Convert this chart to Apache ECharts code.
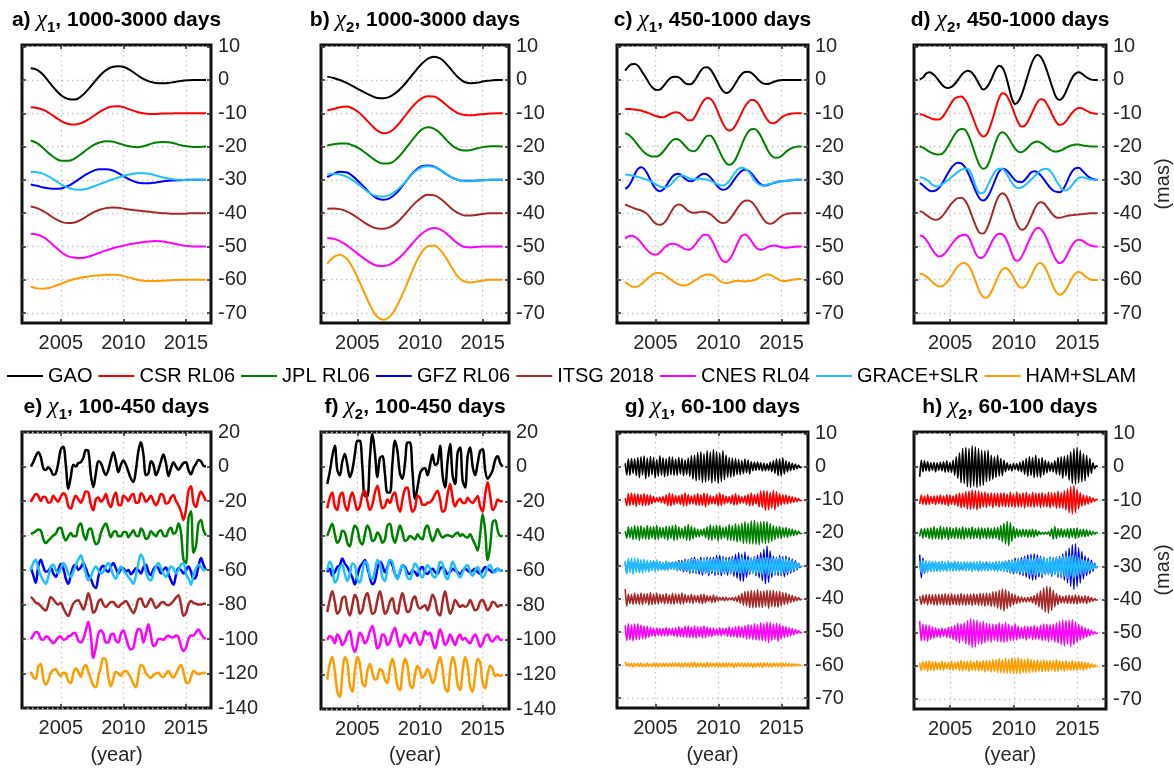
<!DOCTYPE html>
<html><head><meta charset="utf-8">
<script src="https://cdn.jsdelivr.net/npm/echarts@6/dist/echarts.min.js"></script>
<style>html,body{margin:0;padding:0;background:#fff;}#c{width:1174px;height:769px;}</style>
</head><body><div id="c"></div>
<script>
const seriesNames = ['GAO','CSR RL06','JPL RL06','GFZ RL06','ITSG 2018','CNES RL04','GRACE+SLR','HAM+SLAM'];
const seriesColors = ['#000000','#ff0000','#008000','#0000ff','#a52a2a','#ff00ff','#1ec0ff','#ff9c00'];
const offsetSteps = [0,-1,-2,-3,-4,-5,-3,-6];
const yTicksSmall = [-70,-60,-50,-40,-30,-20,-10,0,10];
const yTicksLarge = [-140,-120,-100,-80,-60,-40,-20,0,20];
const xTicks = [2005,2010,2015];
const startYear = 2002.6;

// panel a: chi1, 1000-3000 days (step 0.5 yr)
const a_GAO = [3.5,3.0,1.5,-0.8,-3.0,-4.8,-5.7,-5.9,-5.0,-3.2,-1.0,1.2,2.9,3.9,4.1,3.8,2.8,1.5,0.3,-0.5,-0.9,-1.0,-0.9,-0.6,-0.3,-0.1,0,0,0];
const a_CSR = [1.8,1.6,1.0,0,-1.3,-2.5,-3.2,-3.4,-3.0,-2.1,-0.9,0.4,1.4,2.0,2.1,1.7,1.0,0.4,0,-0.2,-0.2,-0.1,-0.1,0,0,0,0,0,0];
const a_JPL = [1.8,1.0,-0.5,-2.2,-3.6,-4.3,-4.3,-3.6,-2.3,-0.9,0.4,1.2,1.6,1.5,1.0,0.4,0,-0.2,0.1,0.7,1.2,1.4,1.3,0.9,0.4,0.1,-0.1,-0.1,0];
const a_GFZ = [-1.4,-1.8,-2.3,-2.6,-2.7,-2.5,-1.8,-0.7,0.6,1.8,2.7,3.2,3.2,2.9,2.0,0.9,-0.1,-0.8,-1.0,-1.0,-0.8,-0.5,-0.3,-0.2,-0.1,0,0,0,0];
const a_ITSG = [2.0,1.5,0.6,-0.6,-1.8,-2.7,-3.0,-2.8,-2.0,-0.9,0.2,1.0,1.5,1.7,1.6,1.3,1.0,0.8,0.6,0.4,0.2,0,-0.1,-0.2,-0.2,-0.1,0,0,0];
const a_CNES = [3.8,3.6,2.8,1.4,-0.3,-1.9,-3.0,-3.4,-3.5,-3.2,-2.6,-1.9,-1.2,-0.6,-0.1,0.3,0.7,1.0,1.3,1.5,1.6,1.5,1.2,0.8,0.4,0.1,0,0,0];
const a_GSLR = [2.4,2.3,1.8,0.9,-0.3,-1.5,-2.4,-2.9,-3.0,-2.7,-2.0,-1.3,-0.6,0.1,0.7,1.3,1.7,2.0,2.0,1.8,1.3,0.8,0.4,0.1,0,-0.1,0,0,0];
const a_HAM = [-2.0,-2.6,-2.7,-2.4,-1.8,-1.1,-0.4,0.2,0.6,0.9,1.2,1.3,1.5,1.5,1.4,1.0,0.5,0,-0.3,-0.4,-0.4,-0.3,-0.2,-0.1,0,0,0,0,0];

// panel b: chi2, 1000-3000 days (step 0.5 yr)
const b_GAO = [1.0,0.6,0,-0.8,-1.8,-2.8,-3.8,-4.7,-5.4,-5.5,-5.0,-3.8,-2.0,0.2,2.5,4.7,6.3,7.0,6.5,4.8,2.6,0.6,-0.7,-1.0,-0.8,-0.4,-0.2,0,0];
const b_CSR = [0.8,1.3,1.8,2.0,1.5,0.3,-1.5,-3.5,-5.2,-6.0,-5.6,-4.0,-1.8,0.6,2.8,4.4,5.1,5.0,4.0,2.5,1.0,-0.1,-0.5,-0.6,-0.4,-0.2,-0.1,0,0];
const b_JPL = [0.3,0.7,0.9,0.9,0.4,-0.5,-1.8,-3.2,-4.5,-5.1,-5.0,-3.8,-1.8,0.6,3.0,5.0,5.8,5.4,4.0,2.0,0.2,-0.9,-1.2,-1.0,-0.5,-0.1,0.1,0.1,0];
const b_GFZ = [0.8,1.8,2.4,2.3,1.2,-0.5,-2.4,-4.3,-5.6,-6.0,-5.5,-4.0,-1.8,0.6,2.7,4.0,4.3,4.0,3.0,1.7,0.6,-0.1,-0.3,-0.3,-0.2,-0.1,0,0,0];
const b_ITSG = [1.3,1.4,1.2,0.6,-0.4,-1.6,-2.9,-4.0,-4.6,-4.7,-4.2,-3.0,-1.2,1.0,3.0,4.6,5.5,5.4,4.4,2.8,1.1,-0.1,-0.7,-0.7,-0.5,-0.2,0,0,0];
const b_CNES = [2.5,2.3,1.6,0.5,-0.9,-2.4,-3.8,-5.0,-5.8,-5.9,-5.4,-4.2,-2.5,-0.4,1.8,3.7,5.0,5.5,5.1,3.9,2.2,0.7,-0.2,-0.3,-0.1,0,0,0,0];
const b_GSLR = [1.5,1.8,1.6,1.0,0,-1.4,-2.9,-4.2,-4.9,-5.0,-4.5,-3.3,-1.5,0.6,2.5,3.7,4.1,3.9,3.0,1.7,0.6,-0.1,-0.4,-0.4,-0.2,-0.1,0,0,0];
const b_HAM = [4.8,6.8,7.5,6.5,3.8,0,-4.3,-8.3,-11.2,-12.0,-11.0,-8.3,-4.4,0,4.5,8.0,10.0,10.3,9.0,6.4,3.3,0.6,-0.6,-0.8,-0.5,-0.2,0,0,0];

// panel c: chi1, 450-1000 days (step 0.25 yr)
const c_GAO = [2.8,4.0,4.7,4.8,4.3,3.0,1.5,0,-1.6,-2.6,-3.0,-2.9,-2.0,-0.8,0.3,0.9,1.0,0.8,0,-0.9,-1.3,-1.2,-0.2,1.3,2.8,3.7,3.8,3.2,1.8,0,-1.8,-3.3,-3.9,-3.6,-2.5,-1.0,0.6,1.8,2.4,2.5,2.1,1.3,0.3,-0.6,-1.1,-1.2,-1.0,-0.6,-0.3,-0.1,0,0,0,0,0,0,0];
const c_CSR = [1.3,1.3,1.2,1.1,1.0,0.8,0.5,0.2,-0.2,-0.6,-0.9,-1.1,-1.2,-0.9,-0.4,0.1,0.3,0.2,-0.5,-1.4,-2.1,-2.1,-1.2,0.5,2.4,3.9,4.6,4.4,3.2,1.3,-1.0,-3.1,-4.6,-5.2,-4.9,-3.6,-1.8,0.2,2.0,3.3,4.0,3.9,3.1,1.6,-0.2,-1.8,-2.8,-3.0,-2.6,-1.8,-1.0,-0.5,-0.2,-0.1,0,0,0];
const c_JPL = [4.0,3.6,2.8,1.7,0.5,-0.7,-1.7,-2.4,-2.9,-3.0,-3.0,-2.5,-1.6,-0.4,0.9,1.9,2.3,2.1,1.3,0.2,-0.8,-1.3,-1.4,-0.7,0.7,2.2,3.2,3.3,2.3,0.5,-1.6,-3.5,-4.9,-5.5,-5.1,-3.8,-1.8,0.6,2.8,4.4,5.2,5.3,4.6,3.2,1.3,-0.7,-2.3,-3.2,-3.4,-3.2,-2.5,-1.6,-0.9,-0.4,-0.1,0,0];
const c_GFZ = [-2.7,-2.0,-0.4,1.6,3.2,3.8,3.3,1.9,0,-1.8,-3.0,-3.4,-3.0,-1.8,-0.3,1.0,1.7,1.8,1.2,0.3,-0.3,-0.4,0,0.8,1.5,1.8,1.6,0.8,-0.4,-1.6,-2.6,-3.0,-2.8,-2.0,-0.8,0.6,1.8,2.7,3.0,2.8,2.0,0.8,-0.4,-1.3,-1.7,-1.6,-1.3,-1.0,-0.7,-0.5,-0.4,-0.3,-0.2,-0.1,0,0,0];
const c_ITSG = [2.6,2.2,1.8,1.4,1.1,0.8,0.4,-0.3,-1.4,-2.6,-3.3,-3.5,-3.2,-2.2,-0.6,1.1,2.2,2.6,2.3,1.5,0.7,0.2,0.1,0.2,0.4,0.4,0.2,-0.3,-1.1,-2.0,-2.7,-3.0,-2.8,-2.0,-0.8,0.6,2.0,3.1,3.7,3.8,3.4,2.4,1.0,-0.6,-2.0,-2.9,-3.2,-2.9,-2.2,-1.4,-0.7,-0.3,-0.1,0,0,0,0];
const c_CNES = [2.3,3.0,3.2,2.9,2.2,1.2,0,-1.1,-2.0,-2.4,-2.4,-1.8,-0.8,0.1,0.6,0.8,0.7,0.3,-0.3,-0.8,-1.0,-0.7,0.3,1.6,2.8,3.5,3.5,2.6,0.9,-1.2,-3.1,-4.4,-4.7,-4.0,-2.5,-0.4,1.7,3.2,3.6,3.0,1.7,0.3,-0.7,-1.0,-0.8,-0.3,0.1,0.3,0.2,-0.1,-0.3,-0.4,-0.3,-0.2,-0.1,0,0];
const c_GSLR = [1.6,1.5,1.3,1.1,0.9,0.6,0.3,0,-0.4,-0.9,-1.5,-2.0,-2.2,-2.2,-1.8,-0.9,0.2,1.0,1.3,1.1,0.6,0.2,0.2,0.3,0.3,0.2,0,-0.3,-0.7,-1.2,-1.6,-1.7,-1.3,-0.4,1.0,2.4,3.3,3.6,3.4,2.6,1.4,0,-1.1,-1.6,-1.7,-1.5,-1.2,-0.9,-0.7,-0.5,-0.4,-0.3,-0.2,-0.1,0,0,0];
const c_HAM = [-0.7,-1.4,-2.0,-2.2,-2.0,-1.4,-0.6,0.3,1.1,1.7,2.0,2.0,1.7,1.1,0.4,-0.3,-0.9,-1.4,-1.7,-1.7,-1.4,-0.9,-0.3,0.3,0.9,1.3,1.6,1.6,1.2,0.5,-0.3,-0.8,-1.0,-0.9,-0.6,-0.4,-0.3,-0.4,-0.5,-0.4,-0.3,-0.1,0.3,0.8,1.3,1.6,1.5,1.0,0.4,-0.1,-0.4,-0.4,-0.2,0,0.1,0.2,0.2];

// panel d: chi2, 450-1000 days (step 0.25 yr)
const d_GAO = [0.2,0.7,1.9,2.3,1.9,1.0,-0.2,-1.4,-2.2,-2.4,-2.1,-1.2,0,1.3,2.3,2.8,2.5,1.5,0,-1.8,-2.9,-2.3,-0.8,1.2,3.3,4.3,3.7,1.5,-2.0,-5.6,-7.2,-6.5,-4.6,-1.8,1.4,4.4,6.6,7.5,7.0,5.3,2.8,-0.1,-3.0,-5.3,-6.0,-5.3,-3.5,-1.3,0.7,1.9,2.3,1.9,1.1,0.5,0.1,0,0];
const d_CSR = [-0.3,-0.5,-0.9,-1.3,-1.7,-1.9,-1.9,-1.3,0,1.6,3.2,4.4,4.9,5.0,4.4,2.8,0.5,-2.0,-4.5,-6.3,-7.0,-6.4,-4.4,-1.5,1.8,4.6,6.0,5.7,4.2,2.0,-0.6,-2.8,-4.0,-3.8,-2.5,-0.6,1.5,3.3,4.2,4.0,2.8,1.0,-1.0,-2.7,-3.5,-3.3,-2.4,-1.1,0.2,1.1,1.6,1.5,1.0,0.5,0.1,-0.1,-0.2];
const d_JPL = [0.1,-0.3,-0.9,-1.5,-2.0,-2.3,-2.4,-2.2,-1.2,0.3,2.0,3.6,4.8,5.3,5.2,4.0,1.8,-1.0,-3.8,-5.9,-6.7,-6.2,-4.2,-1.3,1.6,3.7,4.3,3.8,2.5,0.8,-0.6,-1.5,-1.7,-1.2,-0.3,0.7,1.3,1.5,1.2,0.6,-0.2,-0.9,-1.4,-1.5,-1.3,-0.9,-0.4,0.1,0.4,0.6,0.6,0.4,0.2,0.1,0,0,0];
const d_GFZ = [-1.0,-1.6,-2.5,-3.2,-3.4,-3.2,-2.5,-1.2,0.5,2.2,3.7,4.7,5.1,5.0,4.1,2.5,0.4,-2.0,-4.2,-5.8,-6.2,-5.6,-4.0,-1.8,0.6,2.5,3.3,3.1,2.2,1.0,-0.1,-0.6,-0.7,-0.1,1.0,2.2,2.6,2.3,1.4,0.2,-1.1,-2.3,-3.2,-3.6,-3.7,-3.0,-1.3,0.9,2.6,3.5,3.6,2.9,1.9,1.0,0.4,0.1,0];
const d_ITSG = [0.6,0.2,-0.5,-1.2,-1.8,-2.0,-1.8,-1.0,0.2,1.6,2.9,3.9,4.5,4.6,4.1,2.6,0.3,-2.3,-4.6,-6.0,-6.1,-4.9,-2.6,0.4,3.3,5.3,6.0,5.4,3.6,1.0,-1.8,-4.0,-5.0,-4.7,-3.3,-1.2,1.0,2.7,3.3,3.0,1.9,0.6,-0.6,-1.3,-1.4,-1.2,-0.9,-0.7,-0.6,-0.5,-0.4,-0.3,-0.2,-0.1,0,0,0];
const d_CNES = [3.3,3.0,2.0,0.6,-1.0,-2.3,-3.0,-2.8,-2.0,-0.8,0.6,1.8,2.8,3.3,3.5,3.2,1.6,-0.8,-2.8,-3.5,-3.2,-1.9,0,1.9,3.3,3.8,3.6,2.5,0.4,-2.2,-4.1,-4.3,-3.2,-1.3,0.9,3.0,4.7,5.5,5.3,4.1,2.2,-0.1,-2.4,-4.2,-5.0,-4.6,-3.2,-1.3,0.4,1.6,2.0,1.8,1.2,0.6,0.2,0,0];
const d_GSLR = [0.8,0.6,0.1,-0.6,-1.5,-2.0,-1.9,-1.4,-0.7,0,0.8,1.6,2.4,3.0,3.3,3.3,2.3,-0.2,-2.8,-4.0,-3.9,-2.5,-0.5,1.4,2.8,3.3,3.3,2.3,0.8,-0.9,-2.1,-2.5,-2.3,-1.7,-0.9,0,1.0,2.0,2.8,3.2,3.3,2.7,1.4,-0.3,-1.9,-3.0,-3.2,-2.6,-1.5,-0.3,0.6,0.8,0.6,0.3,0.1,0,0];
const d_HAM = [1.8,1.6,1.0,0.2,-0.7,-1.5,-2.0,-1.9,-1.3,-0.2,1.2,2.7,4.0,4.8,5.0,4.6,3.2,1.0,-1.6,-3.9,-5.2,-5.4,-4.5,-2.7,-0.5,1.6,3.1,3.5,2.9,1.5,-0.3,-1.8,-2.4,-2.2,-0.9,1.0,3.1,4.6,5.0,4.3,2.6,0.3,-2.0,-3.8,-4.5,-4.1,-2.9,-1.2,0.6,1.9,2.3,1.9,1.1,0.4,0,-0.1,-0.1];

// panel e: chi1, 100-450 days (step 0.2 yr)
const e_GAO = [0,2.5,6,8.2,5.5,-1,-2,-0.5,-2,-4.8,-4,2,10,11.5,1,-12.9,-6,1,0,2,2.5,5,9.5,9,-5,-12,-4,3,2,-2,-5,-2,4,8.3,3,-3.3,1,3.5,1,-3,-7,-9,-2,9,14,7,-5,-4,3,1,-5,-2,3,6.9,2,-5.5,-1,2.5,0,-2,0,2,2.5,-2,-4.5,-1,1.5,3.8,3,0.5,0];
const e_CSR = [-0.5,2,4,3,0,2.5,2,-1,-0.5,3,1,-0.5,2.5,4.5,3,-3,-4.4,0,3,1,-1,2,5.5,5,-2,-5.4,1,2,-0.5,1,4,-1,-3.5,2,5,-2,-2.5,3,2,0,3,4,-1,-1,4.5,3,-0.5,1,3,0,-2.5,0,4,3,-1.5,-1,2,3.5,0,-2.5,-6,-11,-5,6,8.5,-1,-3.5,2,5.5,3,0];
const e_JPL = [1,1.5,2.5,3.5,3,-2,-4.4,-3,-1.5,0,1,4,4.5,0,-2.9,-0.5,1.5,-0.5,-0.5,5,7,1,-2.5,3,4,-1,-5,-4,1.5,5,7,3,-1,2,2.5,-0.5,-0.5,2,2,-1,1,3,0,-0.5,4,2,-2,-1,2.5,1,-0.5,2,3,0,-0.5,3,4.5,1,2,7,2,-14,-16,10,14,-10,-6,7,9,3,0];
const e_GFZ = [1.5,-3,-7.5,2,6,2,-1,-0.5,1.5,-2,-4,0,3.5,1,-5,-8,-3,2,3,0,1.5,4,1,-3,-5,-9,-10.5,-4,1,2.5,0,-1,2,4,1,-2,0.5,1,-1,0,-2.5,-1,1,0,-2,1.5,3,-1,-3,0.5,2,1,-2,0,1.5,-2,-6,-8.5,-3,1,0,-2,0,2,-1,-5,-4,2,7,3,0];
const e_ITSG = [4.4,3,1,0.5,-1,-2.5,-3.5,0,4.4,3,1,0,1,-2,-5,-6.7,-3,0.5,2,2.5,0,-3,1,6.5,2,-4.8,-3,1.5,3,0,-1.5,0,1.5,1.5,-0.5,-1.5,0,1,2,0,-3,-5,-2,3,3.5,0,-1.5,1,3.5,1,-2,-1,1,1.5,0,-0.5,0.5,2,4,5.4,0,-6.5,-5,0,2,1,0.5,0,0,0.5,0.5];
const e_CNES = [0,2,4,3.5,0,-0.5,1.5,1,-1,-2.5,-1,1,1.5,-0.5,0,1.5,2,3.5,3,-1,-2,0,5,10,2,-11,-5,3,5,3,-2,-2,2.5,3,-1,-2,3,5,1,-4,-6,-5,2,6,5,-2,3,8.5,2,-4,-3,0,0,-0.5,1,2,1,1,2,1,-4,-7,-5,0,2,2,4,5.5,3,1,0];
const e_GSLR = [0,4,6,1,-3,-6,-8,-4,2,3,0,-2,1,4,2,-2,-4,-1,3,6,8.5,4,-2,-6,-4,0,2,0,-2,-1,2,4,1,-3,-5,-1,2,0,-2,-4,-6,-8,-3,4,9,6,-1,-5,-6,-2,2,4,1,-2,-4,-1,2,1,-2,0,3,4,-2,-5,-8.5,-3,1,3,2,0,0];
const e_HAM = [1,-2,-3,4,5.5,-3,-6.5,-4,0.5,2,2.5,0,-1.5,0.5,0,-4.5,-5.5,0,3,1,-2,3,5,1,-3,-7,-8,-2,4,9,8,-2,-7.5,-3,1,0,-1.5,1,1.5,0,-2.5,-6,-8,-1,5,4,0,-1.5,-2.5,-1,0,0.5,-1.5,-2,0,1.5,-1,-2.5,0,3,5,1,-5,-5.5,-2,1.5,0.5,-0.5,0,0.5,0];

// panel f: chi2, 100-450 days (step 0.2 yr)
const f_GAO = [-10,-3,6,12,-2,-5,3,7.3,1,-6,-2,7,15,15,0,-17,-17,5,18.8,8,-6,5,6,-4,-15,-15,2,15,9,-4,-7,2,14,14,-3,-18.6,-12,-4,-1.5,-1,-5,1,7,1,2,12,-5,-12,3,13,-5,-10,8,11,-8,-12,6,11,0,-5,2,9,10,-2,-7,-5,-2,4,6,2,0];
const f_CSR = [-4,2,5,-3,-5,3,5,-2,-5.5,1,5,0,-5,-3,4,6,0,-5,-2,5,9,2,-4,-3,1,-1,3,5,-2,-6,1,7,8,0,-6,-4,3,2,-2,-2,-1,-0.5,1,4,6,1,-6,-5,4,10,2,-3,0,1.5,-1,-1,2,0,-1,1,3,-3,-6,4,11,3,-5,-3,1,0,0];
const f_JPL = [0,4,7,1,-4,-2,3,2,-4,-6,1,6,4,-3,-5,1,6,3,-3,-2,2,0,-4,-2,6,7,0,-4,1,6,2,-3,-2,0,-1,-2,1,-1,-2,4,6,1,-3,0,4,1,-1,0,0.5,0,-0.5,1,2,0,1,-0.5,-1,1,-2,-5,-8.5,1,12.5,3,-14,-6,8,9,3,0,0];
const f_GFZ = [-1,1,-3,-1,2,3,7,4,2,-1,-4,-8,-3,2,4,6,2,-4,-8,-6,1,5,3,-1,2,6,3,-2,-4,-1,3,2,-1,-2,0,-1,-3,1,2,-1,-2,0,1,-1,-2,1,2,0,-2,-1,1,0,-1,-2,0,1,0,-1,0,1,-1,-2,0,2,1,0,-1,0,1,0,0];
const f_ITSG = [-4,3,8,2,-5,-3,4,5,-2,-6,0,6,3,-5,-3,4,7,1,-5,-4,3,8,2,-5,-3,2,4,-3,-5,2,7,1,-4,-3,3,5,0,-2,-1,0,-3,1,6,3,-4,-6,2,8,1,-5,-2,3,1,-1,0,-1,0,3,0,-3,-2,2,3,0,-3,-1,2,1,-1,0,0];
const f_CNES = [0,2,1,-2,3,1,-3,-1,3,5,-3,-7,-2,4,2,-2,0,5,8,2,-5,-3,3,2,-3,-1,4,7,1,-4,-1,3,1,-2,2,4,0,-3,0,5,3,4,-1,-5,0,6,2,-3,-1,3,0,-3,1,3,0,1,-1,-2,1,3,0,-4,-2,2,3,0,-1,1,2,0,0];
const f_GSLR = [0,5,2,-7,-5,2,3,-2,-6,-2,4,3,-5,-7,-1,5,4,-3,-5,0,6,4,-4,-6,1,6,5,-2,-5,0,3,1,-4,-5,0,4,2,-2,-4,0,3,1,-3,-4,-1,5,4,-3,-5,0,5,2,-2,-4,-1,2,3,-1,-3,0,2,-1,-4,-2,2,3,0,-1,1,0,0];
const f_HAM = [-3,6,10,2,-10,-13,0,10,7,-6,-10,2,10,6,-5,-7,2,6,1,-3,-2,3,2,-3,-5,4,9,3,-7,-9,2,9,5,-6,-8,0,5,2,-2,0,3,0,-5,-2,6,10,3,-8,-10,2,10,6,-6,-9,2,10,5,-7,-10,0,9,7,-5,-8,0,5,3,-1,0,-1,0];

// panel g: chi1, 60-100 days (step 0.125 yr)
const g_GAO = [1,-2.5,2.3,-2.6,2.5,-2,2.4,-2.7, 2.8,-3.3,3,-2.5,3.2,-3.6,2.6,-3, 3.1,-2.4,2.8,-3.3,2.2,-2.9,3.3,-2.6, 2.7,-3,2.4,-2.8,3,-2.5,2.9,-2.6, 2.3,-2.6,2.8,-2.2,2.5,-2.7,2,-2.4, 2.6,-2.9,3.4,-3.8,3.5,-4.2,4.3,-4, 4.5,-4.8,3.9,-4.6,4.8,-4.2,4.4,-4.9, 5.2,-4.4,4.6,-5,4.1,-4.5,4.8,-3.9, 3.5,-3.2,2.8,-3.1,2.6,-2.9,2.5,-2.4, 2.2,-2.4,1.9,-2.1,2.3,-1.8,2,-2.2, 1.5,-1.2,1.3,-1.1,1.4,-1,1.2,-1.3, 1,-1.2,0.9,-1.1,1.3,-1.5,1.8,-2, 2.4,-2.7,2.3,-2.8,2.6,-2.2,1.8,-1.6, 1.4,-1.2,1,-0.9,0.8,-0.6,0.5,-0.3, 0];
const g_CSR = [0.5,-1.8,1.9,-1.7,2,-1.6,1.8,-2, 1.7,-1.5,1.6,-1.8,1.9,-1.7,1.5,-1.6, 1.4,-1.2,1,-0.8,0.7,-0.6,0.8,-0.9, 1,-1.2,1.5,-1.8,2,-1.9,1.7,-1.5, 1.3,-1.1,1.2,-1.4,1.6,-1.9,2.1,-1.8, 1.6,-1.3,1.1,-1.2,1.4,-1.6,1.9,-1.7, 1.5,-1.7,2,-2.2,1.8,-1.5,1.3,-1.2, 1,-1.3,1.6,-1.8,2,-1.7,1.5,-1.3, 1.1,-0.9,1,-1.2,1.4,-1.6,1.8,-1.5, 1.3,-1.1,0.9,-1,1.2,-1.4,1.6,-1.8, 2,-1.7,1.5,-1.3,1.8,-2.2,2.6,-2.4, 2.8,-3.2,2.7,-3,2.2,-2.5,2.8,-3, 2.4,-2,1.8,-1.6,1.5,-1.3,1.4,-1.2, 1.1,-1,0.9,-0.8,0.7,-0.5,0.4,-0.3, 0];
const g_JPL = [0.5,-1.6,1.8,-1.5,1.7,-2,2.2,-1.9, 2,-2.3,2.1,-1.8,1.6,-1.9,2.2,-2, 1.8,-1.6,1.9,-2.1,2.3,-2,1.7,-1.5, 1.6,-1.8,2,-2.2,1.9,-1.7,2.1,-2.3, 2.4,-2.1,1.8,-1.6,1.4,-1.7,2,-2.2, 2.5,-2.3,2,-1.8,1.5,-1.3,1.1,-1.2, 1,-0.9,1.2,-1.5,1.8,-2.1,2.4,-2.2, 2,-1.8,2.3,-2.5,2.2,-1.9,1.6,-1.5, 1.8,-2.2,2.5,-2.3,2.1,-2.4,2.7,-2.8, 2.4,-2.6,2.9,-3.2,3.4,-3.1,2.9,-3.3, 3.6,-3.4,3.8,-3.5,3.2,-3.6,3.4,-3, 3.5,-3.2,3.4,-3,2.8,-2.5,2.2,-2, 1.8,-1.6,1.9,-1.7,1.5,-1.3,1.6,-1.4, 1.2,-1,1.1,-0.9,0.8,-0.6,0.5,-0.3, 0];
const g_GFZ = [1,-2,1.5,-1.2,1,-1.4,1.2,-1, 1.3,-1.5,1.2,-1,1.4,-1.2,1.1,-1.3, 1,-1.2,1.4,-1.1,0.9,-1,1.2,-1.1, 0.9,-1.1,1.3,-1.2,1,-0.9,1.1,-1, 1.2,-1.4,1.6,-1.3,1.5,-1.8,2,-1.7, 1.9,-2.2,2.4,-2.1,2.6,-2.3,2,-2.5, 2.6,-2.8,2.4,-2.2,2.7,-3,2.5,-2.3, 2.6,-2.9,3.2,-2.7,3.3,-3,2.8,-2.4, 2.5,-2.8,2.6,-2.4,2.9,-3.2,3.5,-3.8, 4,-4.5,3.6,-4.7,4.2,-3.5,3,-2.6, 2.4,-2.2,2.8,-3,3.3,-3.6,4,-4.5, 5,-5.4,6,-5,4.5,-3.5,3,-2.8, 2.6,-2.9,3.2,-3,2.8,-3.3,3,-2.7, 2.5,-2.2,2,-1.8,1.5,-1.2,0.8,-0.5, 0];
const g_ITSG = [3,-2.2,1.5,-1.4,1.3,-1.6,1.7,-1.5, 1.4,-1.6,1.8,-1.7,1.5,-1.3,1.6,-1.8, 1.9,-1.7,1.5,-1.6,1.8,-1.5,1.4,-1.2, 1.3,-1.5,1.6,-1.4,1.2,-1.5,1.7,-1.6, 1.5,-1.3,1.4,-1.6,1.8,-1.5,1.3,-1.1, 1,-1.2,1.4,-1.3,1.1,-0.9,1,-1.2, 1.3,-1.5,1.4,-1.2,1,-0.8,0.9,-1.1, 1.2,-1,0.8,-0.6,0.5,-0.4,0.5,-0.6, 0.5,-0.4,0.3,-0.3,0.4,-0.5,0.6,-0.8, 1,-1.3,1.6,-1.9,2.2,-2.1,2.4,-2.6, 2.5,-2.7,2.4,-2.6,2.8,-2.5,2.3,-2.6, 2.4,-2.2,2.6,-2.8,2.5,-2.3,2.6,-2.4, 2.2,-2.5,2.3,-2.1,1.9,-1.7,1.8,-1.5, 1.3,-1.1,1,-0.8,0.7,-0.5,0.4,-0.3, 0];
const g_CNES = [2,-2.6,2.5,-2.4,2.2,-2.7,2.4,-2.3, 2.5,-2.2,2.1,-2,1.8,-2,1.7,-1.6, 1.4,-1.2,1.1,-1.3,1.2,-1,1.1,-1.2, 1,-1.1,1.3,-1.2,1,-0.9,1.1,-1.2, 1.3,-1.5,1.6,-1.4,1.2,-1.5,1.7,-1.6, 1.8,-1.6,1.5,-1.7,1.9,-1.8,1.6,-1.5, 1.6,-1.8,1.9,-1.7,1.5,-1.3,1.2,-1.4, 1.2,-1,0.9,-1.1,1.3,-1.2,1,-0.9, 1.1,-1.3,1.5,-1.4,1.2,-1.4,1.6,-1.7, 1.8,-1.6,1.5,-1.7,1.9,-2.1,2.2,-2, 2.1,-2.3,2.5,-2.4,2.2,-2.5,2.8,-2.6, 2.5,-2.8,3,-3.2,2.9,-2.6,2.4,-2.2, 2.6,-2.8,2.4,-2.1,1.9,-1.7,1.6,-1.4, 1.3,-1.1,1,-0.8,0.7,-0.5,0.4,-0.3, 0];
const g_GSLR = [1.5,-2.5,2.3,-2.1,2.4,-2.6,2.2,-2, 2.3,-2.1,1.9,-2.2,2,-1.8,1.7,-1.9, 1.6,-1.4,1.5,-1.7,1.8,-1.5,1.3,-1.2, 1.1,-1.3,1.4,-1.2,1,-0.9,1.2,-1.1, 1.3,-1.5,1.2,-1,1.1,-1.3,1.5,-1.4, 1.6,-1.8,2,-1.7,1.9,-2.1,1.8,-1.6, 1.8,-2,2.2,-1.9,2.1,-2.3,2,-1.8, 2,-2.2,2.4,-2.1,1.9,-2,2.3,-2.1, 2,-1.8,1.9,-2.1,2.3,-2,1.8,-1.9, 2.1,-2.3,2.5,-2.2,2,-1.8,1.9,-2, 2.2,-2.4,2.6,-2.3,2.1,-2.2,2.4,-2.6, 2.5,-2.3,2.6,-2.8,2.4,-2.2,2.3,-2.5, 2.4,-2.2,2.5,-2.6,2.3,-2.1,2.2,-2, 1.8,-1.6,1.5,-1.3,1.1,-0.9,0.6,-0.3, 0];
const g_HAM = [1,-0.3,0.5,-0.4,0.5,-0.6,0.5,-0.4, 0.5,-0.4,0.6,-0.5,0.4,-0.5,0.6,-0.4, 0.4,-0.5,0.6,-0.4,0.5,-0.6,0.5,-0.4, 0.5,-0.4,0.6,-0.5,0.5,-0.4,0.6,-0.5, 0.6,-0.5,0.7,-0.6,0.5,-0.6,0.7,-0.5, 0.6,-0.7,0.8,-0.6,0.9,-0.7,0.6,-0.5, 0.7,-0.6,0.5,-0.7,0.8,-0.6,0.7,-0.5, 0.6,-0.5,0.7,-0.6,0.5,-0.6,0.7,-0.6, 0.5,-0.6,0.7,-0.5,0.6,-0.7,0.6,-0.5, 0.6,-0.5,0.7,-0.6,0.5,-0.6,0.7,-0.5, 0.6,-0.7,0.5,-0.6,0.7,-0.5,0.6,-0.7, 0.6,-0.5,0.7,-0.6,0.5,-0.6,0.7,-0.5, 0.6,-0.5,0.6,-0.5,0.6,-0.5,0.5,-0.4, 0.5,-0.4,0.4,-0.3,0.3,-0.3,0.2,-0.1, 0];

// panel h: chi2, 60-100 days (step 0.125 yr)
const h_GAO = [-3,2,-1.5,1.8,-1.2,1.5,-1.3,1.2, -1,1.3,-1.5,1.2,-1,1.4,-1.2,1.5, -1.6,1.8,-1.5,1.3,-1.6,2,-2.5,3, -3.5,4.2,-4.8,5.5,-5,5.8,-6,5.5, -6.2,6.3,-5.8,6,-6.2,5.5,-5.8,5, -5.5,4.8,-4.5,5,-4.2,3.5,-3.8,3, -3.2,3.5,-2.8,2.5,-2.7,2,-1.5,1.2, -1,0.8,-1.2,1,-0.8,1,-1.2,1.4, -1.5,1.8,-2.2,2.5,-2.8,3,-2.6,2.8, -3.2,3.5,-3,2.6,-3.2,2.8,-2.4,2, -1.8,1.5,-1.3,1.2,-1.5,1.8,-2.2,2.8, -2.5,3,-3.5,3.2,-2.8,3.5,-4,4.5, -5,5.5,-5.2,5.8,-4.8,5,-4.5,4, -4.2,3.5,-3,2.5,-2,1.2,-0.6,0.3, 0];
const h_CSR = [-1.2,1.5,-1.3,1.2,-1.4,1.6,-1.3,1.1, -1,1.2,-1.4,1.3,-1.1,1.5,-1.3,1.2, -1.4,1.6,-1.8,1.5,-1.3,1.2,-1.5,1.7, -1.9,2.1,-2.3,2,-2.2,2.5,-2.7,2.6, -2.8,3,-2.6,2.8,-3,2.7,-2.5,2.3, -2.1,2.4,-2.2,2,-1.8,2.1,-2.3,2, -1.8,2,-2.2,2.1,-1.9,2.2,-2,1.8, -2.1,2.3,-2,1.8,-2.2,2.4,-2.1,1.9, -2,2.2,-2.4,2.3,-2,1.8,-2.1,2.3, -2.2,2,-1.9,2.1,-2.3,2.2,-2,1.8, -2.1,2.3,-2.4,2.2,-2,2.2,-2.5,2.6, -2.4,2.2,-2.5,2.8,-3,3.4,-3.8,4, -4.2,4.4,-3.8,3.2,-2.6,2.2,-1.8,1.5, -1.5,1.3,-1.2,1,-0.8,0.6,-0.4,0.2, 0];
const h_JPL = [-1,1.3,-1.5,1.4,-1.2,1.5,-1.7,1.6, -1.8,2,-1.7,1.5,-1.8,2.1,-1.9,1.7, -1.5,1.8,-2,1.7,-1.5,1.4,-1.6,1.8, -1.6,1.5,-1.7,1.9,-1.8,1.6,-1.4,1.5, -1.7,1.9,-1.6,1.4,-1.5,1.7,-1.8,1.6, -1.4,1.5,-1.7,1.6,-1.5,1.4,-1.6,1.7, -1.5,1.8,-2,2.3,-2.6,3,-3.3,3.6, -3.8,3.2,-2.5,2,-1.5,1.3,-1.1,1, -1.1,1.2,-1,1.1,-1.2,1,-1.1,1.2, -1.2,1,-0.8,0.6,-0.4,0.3,-0.3,0.3, -0.3,0.4,-0.8,1.3,-1.8,2,-1.6,1.3, -1.1,1.3,-1.2,1,-1.1,1.3,-1.5,1.4, -1.2,1.4,-1.6,1.5,-1.3,1.1,-1,1.2, -1.1,1,-0.9,0.8,-0.6,0.5,-0.3,0.2, 0];
const h_GFZ = [3.5,-3.5,2.5,-2,1.5,-1.3,1.2,-1.4, 1.3,-1.2,1.1,-1.4,1.2,-1,1.3,-1.1, 1,-1.2,1.1,-0.9,1,-1.2,1.3,-1.1, 1.2,-1,0.9,-1.1,1.2,-1,0.9,-1, 1.1,-1.2,1,-0.9,1.1,-1.3,1.2,-1, 1,-1.1,1.3,-1.2,1,-0.9,1.1,-1.2, 1.3,-1.1,1,-1.2,1.4,-1.3,1.5,-1.6, 1.8,-2,1.9,-2.2,2.4,-2.1,2.3,-2.5, 2.6,-2.8,3,-3.3,3.5,-3.8,3.6,-4.2, 3.8,-4,3.5,-3.2,3,-3.4,2.8,-2.5, 2.2,-2.5,2.8,-3,2.6,-2.4,2.8,-3.3, 3,-3.4,3.8,-4.2,4.6,-5,5.5,-6, 6.5,-7,6.8,-6,5.5,-5,4.5,-3.8, 3.2,-2.8,2.5,-2.2,1.8,-1.4,0.9,-0.4, 0];
const h_ITSG = [1,-1.5,1.3,-1.2,1.4,-1.6,1.5,-1.3, 1.4,-1.6,1.5,-1.7,1.6,-1.4,1.5,-1.6, 1.7,-1.5,1.6,-1.8,1.7,-1.5,1.4,-1.6, 1.5,-1.7,1.8,-1.6,1.5,-1.7,1.6,-1.5, 1.6,-1.8,1.7,-1.5,1.6,-1.8,1.9,-1.7, 1.8,-2,1.9,-1.7,1.8,-2.1,2.3,-2.1, 2.4,-2.6,2.8,-3,3.2,-3.5,3,-2.7, 2.4,-2.2,1.8,-1.6,1.4,-1.2,1,-0.9, 0.8,-0.7,0.6,-0.8,0.7,-0.6,0.8,-1, 1.2,-1.5,1.8,-2.2,2.6,-3,3.5,-3.8, 4,-4.2,3.8,-3.3,2.8,-2.2,1.8,-1.5, 1.2,-1,0.9,-1,1.1,-1.2,1.3,-1.2, 1.1,-1.2,1.4,-1.3,1.2,-1,0.9,-1, 1.1,-1.2,1,-0.8,0.6,-0.5,0.3,-0.2, 0];
const h_CNES = [3.5,-2.5,2.6,-2.3,2.4,-2.6,2.2,-2, 1.8,-1.6,1.5,-1.3,1.2,-1.4,1.3,-1.1, 1.2,-1.4,1.6,-1.5,1.8,-2,2.2,-2.5, 2.8,-3,2.7,-2.5,3,-3.3,3.6,-3.8, 4.2,-4.5,4,-4.3,3.8,-3.5,3.2,-3.5, 3.4,-3,2.8,-2.5,2.6,-2.8,2.5,-2.3, 2.5,-2.7,3,-2.8,2.6,-2.9,3.1,-2.7, 2.5,-2.3,2.1,-2.4,2.6,-2.2,2,-1.8, 1.6,-1.8,2,-2.2,1.9,-1.7,1.9,-2.1, 2.2,-2,1.8,-2,2.2,-2.4,2.6,-2.3, 2.5,-2.7,2.4,-2.2,2.5,-2.8,3,-3.2, 3.4,-3.6,3.8,-4,3.7,-3.5,3.8,-4.2, 4,-3.6,3.2,-2.8,2.5,-2.2,2,-1.7, 1.5,-1.3,1.1,-0.9,0.7,-0.5,0.3,-0.2, 0];
const h_GSLR = [1.5,-2,1.8,-1.6,1.7,-1.9,1.6,-1.5, 1.4,-1.6,1.5,-1.3,1.4,-1.6,1.5,-1.4, 1.3,-1.5,1.6,-1.4,1.2,-1.3,1.5,-1.4, 1.2,-1.4,1.3,-1.1,1.2,-1.4,1.3,-1.2, 1.4,-1.5,1.3,-1.2,1.4,-1.5,1.6,-1.4, 1.3,-1.2,1.1,-1.3,1.4,-1.2,1.1,-1.3, 1.4,-1.6,1.5,-1.3,1.4,-1.6,1.7,-1.5, 1.6,-1.8,1.9,-1.7,1.8,-2,2.1,-1.9, 2,-2.2,2.4,-2.1,2.3,-2.5,2.6,-2.4, 2.5,-2.7,2.4,-2.2,2.5,-2.8,2.6,-2.3, 2.4,-2.6,2.8,-2.5,2.3,-2.6,2.9,-2.7, 2.6,-2.9,3.2,-3,3.3,-3.5,3.2,-3, 3.4,-3.6,3.2,-2.9,2.7,-2.5,2.2,-2, 1.8,-1.6,1.5,-1.3,1.1,-0.9,0.6,-0.3, 0];
const h_HAM = [1,-1.5,1.3,-1.2,1.4,-1.6,1.5,-1.3, 1.2,-1.4,1.3,-1.1,1,-1.2,1.4,-1.3, 1.1,-0.9,1,-1.2,1.4,-1.3,1.1,-1, 1.2,-1.4,1.6,-1.5,1.3,-1.2,1.4,-1.6, 1.5,-1.3,1.2,-1.4,1.6,-1.5,1.3,-1.4, 1.6,-1.8,1.7,-1.5,1.6,-1.8,1.9,-1.7, 1.8,-2,2.2,-2,1.9,-2.1,2.3,-2.2, 2,-2.2,2.4,-2.3,2.1,-2.3,2.5,-2.4, 2.2,-2,1.9,-2.1,2.3,-2.1,1.9,-1.8, 1.7,-1.9,1.8,-1.6,1.5,-1.7,1.8,-1.6, 1.5,-1.7,1.6,-1.4,1.5,-1.7,1.8,-1.6, 1.5,-1.3,1.4,-1.6,1.5,-1.3,1.2,-1.4, 1.5,-1.3,1.2,-1.4,1.3,-1.1,1.2,-1.3, 1.1,-1,0.9,-0.7,0.6,-0.4,0.3,-0.2, 0];

const panelTitles = [
  ['a) ','1',', 1000-3000 days'], ['b) ','2',', 1000-3000 days'],
  ['c) ','1',', 450-1000 days'], ['d) ','2',', 450-1000 days'],
  ['e) ','1',', 100-450 days'], ['f) ','2',', 100-450 days'],
  ['g) ','1',', 60-100 days'], ['h) ','2',', 60-100 days']
];

const panels = [
  {data:[a_GAO,a_CSR,a_JPL,a_GFZ,a_ITSG,a_CNES,a_GSLR,a_HAM], step:0.5, box:[22,45,189,278], xr:[2001.9,2017.0], yr:[-73,10.5], yt:yTicksSmall, off:10, lw:2, sm:0.45},
  {data:[b_GAO,b_CSR,b_JPL,b_GFZ,b_ITSG,b_CNES,b_GSLR,b_HAM], step:0.5, box:[321,45,188,278], xr:[2002.1,2017.1], yr:[-73,10.5], yt:yTicksSmall, off:10, lw:2, sm:0.45},
  {data:[c_GAO,c_CSR,c_JPL,c_GFZ,c_ITSG,c_CNES,c_GSLR,c_HAM], step:0.25, box:[617,45,191,278], xr:[2001.95,2017.1], yr:[-73,10.5], yt:yTicksSmall, off:10, lw:2, sm:0.4},
  {data:[d_GAO,d_CSR,d_JPL,d_GFZ,d_ITSG,d_CNES,d_GSLR,d_HAM], step:0.25, box:[914,45,192,278], xr:[2002.15,2017.25], yr:[-73,10.5], yt:yTicksSmall, off:10, lw:2, sm:0.4},
  {data:[e_GAO,e_CSR,e_JPL,e_GFZ,e_ITSG,e_CNES,e_GSLR,e_HAM], step:0.2, box:[22,432,189,276], xr:[2001.9,2017.0], yr:[-140,20], yt:yTicksLarge, off:20, lw:2.5, sm:0.35},
  {data:[f_GAO,f_CSR,f_JPL,f_GFZ,f_ITSG,f_CNES,f_GSLR,f_HAM], step:0.2, box:[321,432,188,277], xr:[2002.1,2017.1], yr:[-140,20], yt:yTicksLarge, off:20, lw:2.5, sm:0.35},
  {data:[g_GAO,g_CSR,g_JPL,g_GFZ,g_ITSG,g_CNES,g_GSLR,g_HAM], step:0.125, box:[617,432,191,276], xr:[2001.95,2017.1], yr:[-73,10.5], yt:yTicksSmall, off:10, lw:1.6, sm:0.3},
  {data:[h_GAO,h_CSR,h_JPL,h_GFZ,h_ITSG,h_CNES,h_GSLR,h_HAM], step:0.125, box:[914,432,192,277], xr:[2002.15,2017.25], yr:[-73,10.5], yt:yTicksSmall, off:10, lw:1.6, sm:0.3}
];

const FONT = 'Liberation Sans, Arial, sans-serif';
const TICKC = '#262626';
const grids = [], xAxes = [], yAxes = [], series = [], graphics = [];
const xAx2 = [], yAx2 = [];
const splitStyle = {show:true, lineStyle:{color:'#c6c6c6', width:1.3, type:[1.5,3.5]}};
const plainFmt = v => String(v);
const noLine = {show:false, onZero:false};

panels.forEach((p, i) => {
  const [l,t,w,h] = p.box;
  grids.push({left:l, top:t, width:w, height:h, show:true, borderColor:'#111', borderWidth:3, backgroundColor:'transparent', containLabel:false});
  xAxes.push({type:'value', gridIndex:i, position:'bottom', min:p.xr[0], max:p.xr[1],
    axisLine:noLine,
    axisTick:{show:true, inside:true, length:4, customValues:xTicks, lineStyle:{color:TICKC, width:1.5}},
    axisLabel:{show:true, customValues:xTicks, formatter:plainFmt, fontSize:20, color:TICKC, fontFamily:FONT, margin:10},
    splitLine:splitStyle});
  yAxes.push({type:'value', gridIndex:i, position:'right', min:p.yr[0], max:p.yr[1],
    axisLine:noLine,
    axisTick:{show:true, inside:true, length:4, customValues:p.yt, lineStyle:{color:TICKC, width:1.5}},
    axisLabel:{show:true, customValues:p.yt, formatter:plainFmt, fontSize:20, color:TICKC, fontFamily:FONT, margin:7},
    splitLine:splitStyle});
  xAx2.push({type:'value', gridIndex:i, position:'top', min:p.xr[0], max:p.xr[1],
    axisLine:noLine, axisLabel:{show:false}, splitLine:{show:false},
    axisTick:{show:true, inside:true, length:4, customValues:xTicks, lineStyle:{color:TICKC, width:1.5}}});
  yAx2.push({type:'value', gridIndex:i, position:'left', min:p.yr[0], max:p.yr[1],
    axisLine:noLine, axisLabel:{show:false}, splitLine:{show:false},
    axisTick:{show:true, inside:true, length:4, customValues:p.yt, lineStyle:{color:TICKC, width:1.5}}});
  p.data.forEach((arr, j) => {
    series.push({type:'line', name:seriesNames[j], xAxisIndex:i, yAxisIndex:i,
      data: arr.map((v,k) => [startYear + p.step*k, v + p.off*offsetSteps[j]]),
      showSymbol:false, symbol:'none', smooth:p.sm, clip:true, silent:true,
      lineStyle:{color:seriesColors[j], width:p.lw}, itemStyle:{color:seriesColors[j]}});
  });
  const tt = panelTitles[i];
  graphics.push({type:'text', x: l + w/2, y: t - 25, silent:true,
    style:{text:'{b|'+tt[0]+'}{c|χ}{s|'+tt[1]+'}{b|'+tt[2]+'}', align:'center', verticalAlign:'middle',
      rich:{
        b:{fontSize:21, fontWeight:'bold', fontFamily:FONT, fill:'#000', lineHeight:30, verticalAlign:'middle'},
        c:{fontSize:24, fontStyle:'italic', fontFamily:'Liberation Serif, serif', fill:'#000', lineHeight:30, verticalAlign:'middle'},
        s:{fontSize:15, fontWeight:'bold', fontFamily:FONT, fill:'#000', lineHeight:14, verticalAlign:'bottom'}
      }}});
});

graphics.push({type:'text', x:1163, y:184, rotation:Math.PI/2, silent:true, style:{text:'(mas)', fontSize:20, fontFamily:FONT, fill:TICKC, align:'center', verticalAlign:'middle'}});
graphics.push({type:'text', x:1163, y:570, rotation:Math.PI/2, silent:true, style:{text:'(mas)', fontSize:20, fontFamily:FONT, fill:TICKC, align:'center', verticalAlign:'middle'}});
[0,1,2,3].forEach(c => {
  const p = panels[4+c]; const [l,t,w,h] = p.box;
  graphics.push({type:'text', x:l + w/2, y:755, silent:true, style:{text:'(year)', fontSize:20, fontFamily:FONT, fill:TICKC, align:'center', verticalAlign:'middle'}});
});

const option = {
  animation:false,
  backgroundColor:'#ffffff',
  legend:{data:seriesNames, left:7, top:366, padding:0, icon:'rect', itemWidth:36, itemHeight:2, itemGap:6,
    width:1165, textStyle:{fontSize:20, color:'#000', fontFamily:FONT}, selectedMode:false},
  grid:grids,
  xAxis:xAxes.concat(xAx2),
  yAxis:yAxes.concat(yAx2),
  series:series,
  graphic:graphics
};
const chart = echarts.init(document.getElementById('c'), null, {renderer:'canvas'});
chart.setOption(option);
</script></body></html>
